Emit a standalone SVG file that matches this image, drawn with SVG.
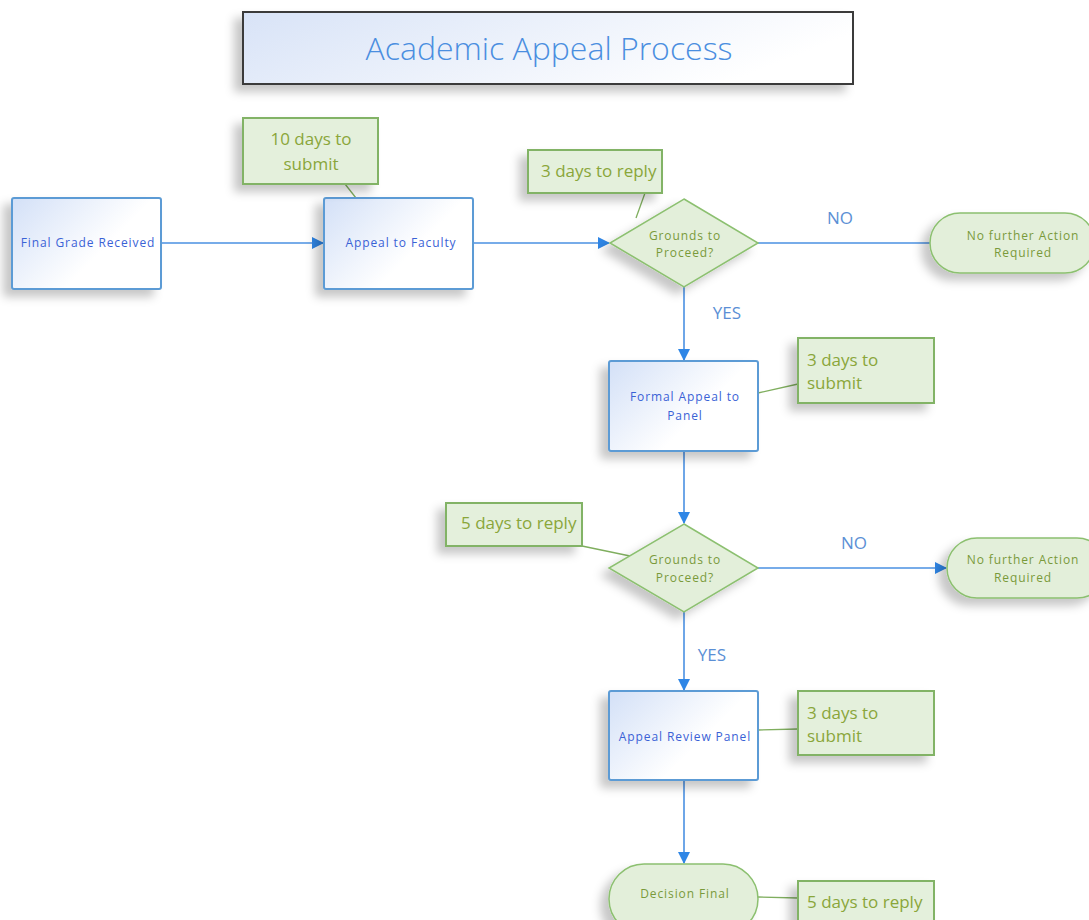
<svg xmlns="http://www.w3.org/2000/svg" width="1089" height="920" viewBox="0 0 1089 920">
<style>
.proc{fill:url(#gBlue);stroke:#5b9bd5;stroke-width:2}
.dec{fill:#e3efda;stroke:#8cc070;stroke-width:1.5}
.term{fill:#e3efda;stroke:#8cc070;stroke-width:1.5}
.note{fill:#e4f0dc;stroke:#82b366;stroke-width:2}
.conn{stroke:#4a90e2;stroke-width:1.6;fill:none}
.lead{stroke:#7fae5e;stroke-width:1.3;fill:none}
.tb{font-family:"Open Sans","Liberation Sans",sans-serif;font-size:12px;fill:#3a62d6;text-anchor:middle;letter-spacing:0.9px}
.tg{font-family:"Open Sans","Liberation Sans",sans-serif;font-size:12px;fill:#7a9a3a;text-anchor:middle;letter-spacing:0.9px}
.tn{font-family:"Open Sans","Liberation Sans",sans-serif;font-size:17px;fill:#8aa63a;letter-spacing:0px}
.lbl{font-family:"Open Sans","Liberation Sans",sans-serif;font-size:17px;fill:#5b8fd5;text-anchor:middle}
</style>
<defs>
<linearGradient id="gBlue" x1="0" y1="0" x2="1" y2="0.6">
<stop offset="0" stop-color="#d3e0f7"/>
<stop offset="0.7" stop-color="#ffffff"/>
</linearGradient>
<linearGradient id="gTitle" x1="0" y1="0" x2="1" y2="0.3">
<stop offset="0" stop-color="#d8e3f7"/>
<stop offset="1" stop-color="#ffffff"/>
</linearGradient>
<filter id="sh" x="-30%" y="-30%" width="160%" height="170%">
<feDropShadow dx="-8" dy="7" stdDeviation="5" flood-color="#000" flood-opacity="0.22"/>
</filter>
<marker id="arr" markerWidth="12" markerHeight="12" refX="11" refY="6" orient="auto" markerUnits="userSpaceOnUse">
<path d="M0,0 L12,6 L0,12 Z" fill="#2f86e6"/>
</marker>
</defs>
<rect width="1089" height="920" fill="#fff"/>

<g id="title">
<rect x="243" y="12" width="610" height="72" fill="url(#gTitle)" stroke="#3a3a3a" stroke-width="2" filter="url(#sh)"/>
<text x="549" y="60" font-family="'Open Sans','Liberation Sans',sans-serif" font-size="32" fill="#4a8ee0" text-anchor="middle" font-weight="300">Academic Appeal Process</text>
</g>

<g id="connectors">
<line class="conn" x1="161" y1="243" x2="323" y2="243" marker-end="url(#arr)"/>
<line class="conn" x1="473" y1="243" x2="609" y2="243" marker-end="url(#arr)"/>
<line class="conn" x1="758" y1="243" x2="945" y2="243" marker-end="url(#arr)"/>
<line class="conn" x1="684" y1="287" x2="684" y2="360" marker-end="url(#arr)"/>
<line class="conn" x1="684" y1="451" x2="684" y2="523" marker-end="url(#arr)"/>
<line class="conn" x1="758" y1="568" x2="946" y2="568" marker-end="url(#arr)"/>
<line class="conn" x1="684" y1="612" x2="684" y2="690" marker-end="url(#arr)"/>
<line class="conn" x1="684" y1="780" x2="684" y2="863" marker-end="url(#arr)"/>
<text class="lbl" x="840" y="224">NO</text>
<text class="lbl" x="727" y="319">YES</text>
<text class="lbl" x="854" y="549">NO</text>
<text class="lbl" x="712" y="661">YES</text>
<line class="lead" x1="345" y1="184" x2="356" y2="198"/>
<line class="lead" x1="645" y1="193" x2="636" y2="218"/>
<line class="lead" x1="758" y1="393" x2="798" y2="384"/>
<line class="lead" x1="582" y1="546" x2="630" y2="556"/>
<line class="lead" x1="758" y1="730" x2="798" y2="729"/>
<line class="lead" x1="758" y1="897" x2="798" y2="898"/>
</g>

<g id="n-final-grade">
<rect class="proc" x="12" y="198" width="149" height="91" rx="2" filter="url(#sh)"/>
<text class="tb" x="88" y="247">Final Grade Received</text>
</g>
<g id="n-appeal-faculty">
<rect class="proc" x="324" y="198" width="149" height="91" rx="2" filter="url(#sh)"/>
<text class="tb" x="401" y="247">Appeal to Faculty</text>
</g>
<g id="n-note-10days">
<rect class="note" x="243" y="118" width="135" height="66" filter="url(#sh)"/>
<text class="tn" x="311" y="145" text-anchor="middle">10 days to</text>
<text class="tn" x="311" y="170" text-anchor="middle">submit</text>
</g>
<g id="n-decision1">
<polygon class="dec" points="684,199 758,243 684,287 610,243" filter="url(#sh)"/>
<text class="tg" x="685" y="240">Grounds to</text>
<text class="tg" x="685" y="257">Proceed?</text>
</g>
<g id="n-note-3reply">
<rect class="note" x="528" y="150" width="134" height="43" filter="url(#sh)"/>
<text class="tn" x="541" y="177">3 days to reply</text>
</g>
<g id="n-nofurther1">
<rect class="term" x="930" y="213" width="165" height="60" rx="30" filter="url(#sh)"/>
<text class="tg" x="1023" y="240">No further Action</text>
<text class="tg" x="1023" y="257">Required</text>
</g>
<g id="n-formal-appeal">
<rect class="proc" x="609" y="361" width="149" height="90" rx="2" filter="url(#sh)"/>
<text class="tb" x="685" y="401">Formal Appeal to</text>
<text class="tb" x="685" y="420">Panel</text>
</g>
<g id="n-note-3submit1">
<rect class="note" x="798" y="338" width="136" height="65" filter="url(#sh)"/>
<text class="tn" x="807" y="366">3 days to</text>
<text class="tn" x="807" y="389">submit</text>
</g>
<g id="n-decision2">
<polygon class="dec" points="684,524 758,568 684,612 609,568" filter="url(#sh)"/>
<text class="tg" x="685" y="564">Grounds to</text>
<text class="tg" x="685" y="582">Proceed?</text>
</g>
<g id="n-note-5reply1">
<rect class="note" x="446" y="503" width="136" height="43" filter="url(#sh)"/>
<text class="tn" x="461" y="529">5 days to reply</text>
</g>
<g id="n-nofurther2">
<rect class="term" x="947" y="538" width="160" height="60" rx="30" filter="url(#sh)"/>
<text class="tg" x="1023" y="564">No further Action</text>
<text class="tg" x="1023" y="582">Required</text>
</g>
<g id="n-review-panel">
<rect class="proc" x="609" y="691" width="149" height="89" rx="2" filter="url(#sh)"/>
<text class="tb" x="685" y="741">Appeal Review Panel</text>
</g>
<g id="n-note-3submit2">
<rect class="note" x="798" y="691" width="136" height="64" filter="url(#sh)"/>
<text class="tn" x="807" y="719">3 days to</text>
<text class="tn" x="807" y="742">submit</text>
</g>
<g id="n-decision-final">
<rect class="term" x="609" y="864" width="149" height="70" rx="35" filter="url(#sh)"/>
<text class="tg" x="685" y="898">Decision Final</text>
</g>
<g id="n-note-5reply2">
<rect class="note" x="798" y="881" width="136" height="50" filter="url(#sh)"/>
<text class="tn" x="807" y="908">5 days to reply</text>
</g>
</svg>
